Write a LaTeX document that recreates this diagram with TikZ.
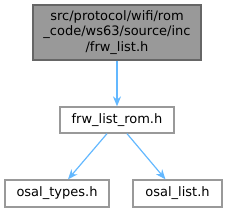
\documentclass[tikz,border=0pt]{standalone}
\usepackage{fontspec}
\setmainfont{DejaVu Sans}
\usetikzlibrary{arrows.meta,calc}
\definecolor{edgeblue}{HTML}{63B8FF}
\definecolor{topfill}{HTML}{999999}
\definecolor{topdraw}{HTML}{666666}
\definecolor{boxdraw}{HTML}{999999}
\begin{document}
\begin{tikzpicture}[x=1pt,y=-1pt,
  filebox/.style={draw=boxdraw,fill=white,line width=1.3pt,inner sep=0pt,minimum height=26pt,
    font=\fontsize{13}{15.5}\selectfont,align=center},
  topbox/.style={filebox,draw=topdraw,fill=topfill},
  dep/.style={draw=edgeblue,line width=1.2pt,-{Stealth[length=10pt,width=8pt]}}]
\useasboundingbox (0,0) rectangle (227,212);
\node[topbox,minimum width=168pt,minimum height=55pt] (top) at (117,32.5)
  {src/protocol/wifi/rom\\\_code/ws63/source/inc\\/frw\_list.h};
\node[filebox,minimum width=114pt] (mid) at (117,120) {frw\_list\_rom.h};
\node[filebox,minimum width=104pt,minimum height=27pt] (bl) at (57,193.5) {osal\_types.h};
\node[filebox,minimum width=89pt,minimum height=27pt] (br) at (177.5,193.5) {osal\_list.h};
\draw[dep] (top.south) -- (mid.north);
\draw[dep] ($(mid.south)+(-10,0)$) -- ($(bl.north)+(11,0)$);
\draw[dep] ($(mid.south)+(10,0)$) -- ($(br.north)+(-12,0)$);
\end{tikzpicture}
\end{document}
